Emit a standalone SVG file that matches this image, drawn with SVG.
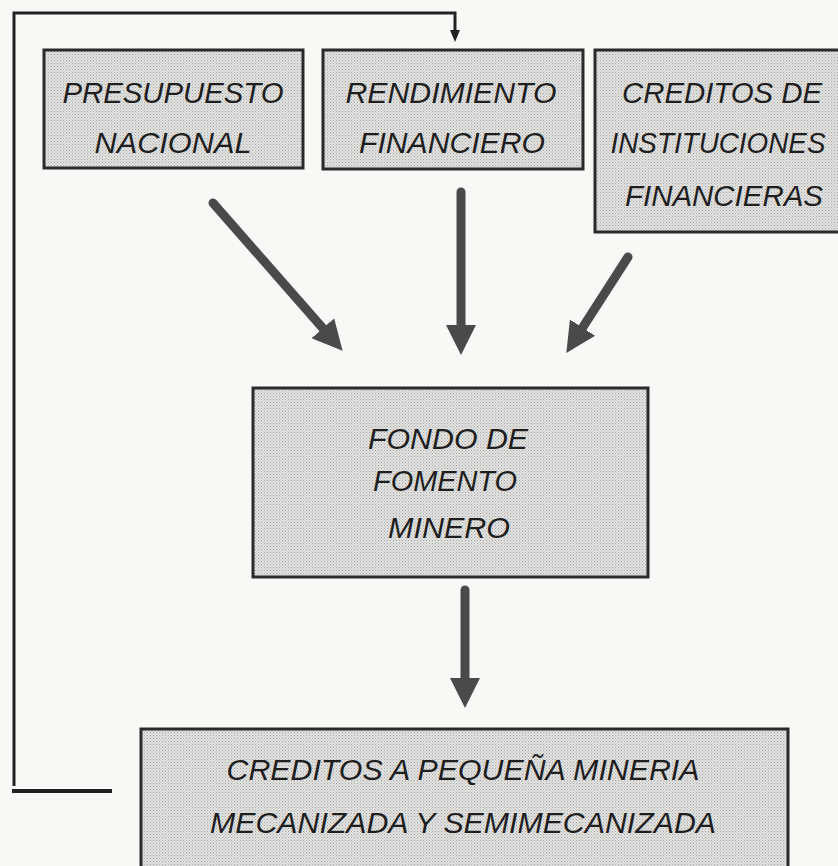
<svg xmlns="http://www.w3.org/2000/svg" width="838" height="866" viewBox="0 0 838 866">
  <defs>
    <pattern id="stip" width="3" height="3" patternUnits="userSpaceOnUse">
      <rect width="3" height="3" fill="#e0e0de"/>
      <rect x="0" y="0" width="1" height="1" fill="#a9a9a9"/>
      <rect x="1.5" y="1.5" width="1" height="1" fill="#bdbdbd"/>
    </pattern>
    <marker id="bigHead" viewBox="0 -16 30 32" refX="1" refY="0" markerWidth="30" markerHeight="32" markerUnits="userSpaceOnUse" orient="auto">
      <path d="M0,-15 L30,0 L0,15 Z" fill="#4a4a4a"/>
    </marker>
    <marker id="smallHead" viewBox="0 -6 12 12" refX="1" refY="0" markerWidth="12" markerHeight="12" markerUnits="userSpaceOnUse" orient="auto">
      <path d="M0,-5 L12,0 L0,5 Z" fill="#222"/>
    </marker>
    <style>
      .box { fill: url(#stip); stroke: #2a2a2a; stroke-width: 3; }
      .lbl { font-family: "Liberation Sans", Arial, sans-serif; font-style: italic; font-size: 30px; fill: #1e1e1e; text-anchor: middle; }
      .fat { fill: none; stroke: #4a4a4a; stroke-width: 9; stroke-linecap: round; marker-end: url(#bigHead); }
      .fb { fill: none; stroke: #222; stroke-width: 3; marker-end: url(#smallHead); }
      .fb2 { fill: none; stroke: #222; stroke-width: 4; }
    </style>
  </defs>
  <rect width="838" height="866" fill="#f8f8f6"/>

  <g id="connectors">
    <path class="fb" d="M14,786 V13 H455 V31"/>
    <line class="fb2" x1="12" y1="791" x2="112" y2="791"/>
    <line class="fat" x1="213" y1="203" x2="323.5" y2="329"/>
    <line class="fat" x1="461" y1="192" x2="461" y2="326"/>
    <line class="fat" x1="628" y1="257" x2="582" y2="328.5"/>
    <line class="fat" x1="465" y1="590" x2="465" y2="679"/>
  </g>

  <g id="presupuesto">
    <rect class="box" x="44" y="50" width="259" height="118"/>
    <text class="lbl" x="173" y="103" textLength="221" lengthAdjust="spacingAndGlyphs">PRESUPUESTO</text>
    <text class="lbl" x="173" y="153" textLength="157" lengthAdjust="spacingAndGlyphs">NACIONAL</text>
  </g>

  <g id="rendimiento">
    <rect class="box" x="323" y="50" width="260" height="119"/>
    <text class="lbl" x="451" y="103" textLength="211" lengthAdjust="spacingAndGlyphs">RENDIMIENTO</text>
    <text class="lbl" x="452" y="153" textLength="186" lengthAdjust="spacingAndGlyphs">FINANCIERO</text>
  </g>

  <g id="creditos-instituciones">
    <rect class="box" x="595" y="50" width="246" height="182"/>
    <text class="lbl" x="722" y="103" textLength="200" lengthAdjust="spacingAndGlyphs">CREDITOS DE</text>
    <text class="lbl" x="718" y="153" style="font-size:29px" textLength="215" lengthAdjust="spacingAndGlyphs">INSTITUCIONES</text>
    <text class="lbl" x="724" y="206" textLength="198" lengthAdjust="spacingAndGlyphs">FINANCIERAS</text>
  </g>

  <g id="fondo">
    <rect class="box" x="253" y="388" width="395" height="189"/>
    <text class="lbl" x="448" y="449" textLength="160" lengthAdjust="spacingAndGlyphs">FONDO DE</text>
    <text class="lbl" x="445" y="491" textLength="144" lengthAdjust="spacingAndGlyphs">FOMENTO</text>
    <text class="lbl" x="449" y="538" textLength="122" lengthAdjust="spacingAndGlyphs">MINERO</text>
  </g>

  <g id="creditos-pequena-mineria">
    <rect class="box" x="141" y="729" width="647" height="160"/>
    <text class="lbl" x="463" y="780" textLength="473" lengthAdjust="spacingAndGlyphs">CREDITOS A PEQUEÑA MINERIA</text>
    <text class="lbl" x="463" y="833" textLength="506" lengthAdjust="spacingAndGlyphs">MECANIZADA Y SEMIMECANIZADA</text>
  </g>
</svg>
